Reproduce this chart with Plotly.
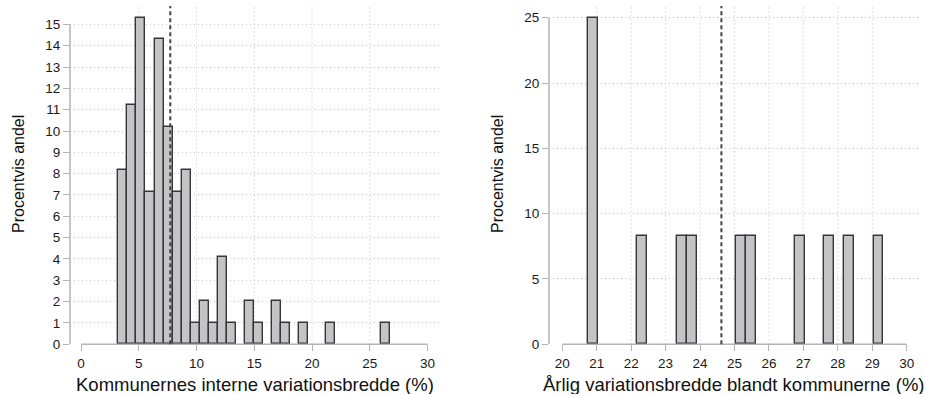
import plotly.graph_objects as go

# ---- data ----
left_bin_mid = [3.622, 4.405, 5.188, 5.972, 6.755, 7.538, 8.322, 9.105, 9.888, 10.672,
                11.455, 12.238, 13.022, 14.588, 15.372, 16.938, 17.722, 19.288, 21.638, 26.338]
left_pct = [8.16, 11.22, 15.31, 7.14, 14.29, 10.20, 7.14, 8.16, 1.02, 2.04,
            1.02, 4.08, 1.02, 2.04, 1.02, 2.04, 1.02, 1.02, 1.02, 1.02]
left_bin_width = 0.7833
left_mean = 7.73

right_bin_mid = [20.898, 22.326, 23.469, 23.755, 25.183, 25.469, 26.898, 27.755, 28.326, 29.183]
right_pct = [25.0, 8.33, 8.33, 8.33, 8.33, 8.33, 8.33, 8.33, 8.33, 8.33]
right_bin_width = 0.2857
right_mean = 24.62

left_xticks = [0, 5, 10, 15, 20, 25, 30]
left_yticks = list(range(0, 16))
right_xticks = list(range(20, 31))
right_yticks = [0, 5, 10, 15, 20, 25]

left_xtitle = "Kommunernes interne variationsbredde (%)"
right_xtitle = "Årlig variationsbredde blandt kommunerne (%)"
ytitle = "Procentvis andel"

# ---- style ----
W, H = 927, 394
FONT = "Arial, Liberation Sans, sans-serif"
BAR_FILL = "#c4c4c8"
BAR_LINE = "#363636"
AXIS_COL = "#b4b4b4"
GRID_COL = "#c4c4c4"
GRID_DASH = "1px,3px"
TXT = "#1a1a1a"

def px(v):
    return v / W

def py(v):
    return (H - v) / H

fig = go.Figure()
fig.add_trace(go.Bar(x=left_bin_mid, y=left_pct, width=[left_bin_width] * len(left_pct),
                     marker=dict(color=BAR_FILL, line=dict(color=BAR_LINE, width=1.4)),
                     xaxis="x", yaxis="y", showlegend=False, hoverinfo="x+y"))
fig.add_trace(go.Bar(x=right_bin_mid, y=right_pct, width=[right_bin_width] * len(right_pct),
                     marker=dict(color=BAR_FILL, line=dict(color=BAR_LINE, width=1.4)),
                     xaxis="x2", yaxis="y2", showlegend=False, hoverinfo="x+y"))

ydom = [py(344.3), py(6)]
common_x = dict(showgrid=False, zeroline=False, showline=False, ticks="outside", ticklen=6,
                tickwidth=1.3, tickcolor=AXIS_COL, tickfont=dict(family=FONT, size=13.5, color=TXT),
                fixedrange=True, automargin=False)
common_y = dict(showgrid=True, gridcolor=GRID_COL, griddash=GRID_DASH, gridwidth=1, zeroline=False,
                showline=False, ticks="outside", ticklen=6, tickwidth=1.3, tickcolor=AXIS_COL,
                tickfont=dict(family=FONT, size=13.5, color=TXT), fixedrange=True, automargin=False)

fig.update_layout(
    width=W, height=H, margin=dict(l=0, r=0, t=0, b=0, autoexpand=False),
    paper_bgcolor="white", plot_bgcolor="white", bargap=0,
    xaxis=dict(domain=[px(70), px(440)], range=[(70 - 81) / 11.55, (440 - 81) / 11.55],
               tickvals=left_xticks, anchor="y", **common_x),
    yaxis=dict(domain=ydom, range=[0, 15.86], tickvals=left_yticks, anchor="x", **common_y),
    xaxis2=dict(domain=[px(549), px(920)], range=[20 + (549 - 562.3) / 34.44, 20 + (920 - 562.3) / 34.44],
                tickvals=right_xticks, anchor="y2", **common_x),
    yaxis2=dict(domain=ydom, range=[0, 25.9], tickvals=right_yticks, anchor="x2", **common_y),
)

shapes = []
# vertical dotted grid lines (inner ticks only)
for v in left_xticks[1:-1]:
    shapes.append(dict(type="line", xref="x", yref="y domain", x0=v, x1=v, y0=0, y1=1,
                       line=dict(color=GRID_COL, width=1, dash=GRID_DASH), layer="below"))
for v in right_xticks[1:-1]:
    shapes.append(dict(type="line", xref="x2", yref="y2 domain", x0=v, x1=v, y0=0, y1=1,
                       line=dict(color=GRID_COL, width=1, dash=GRID_DASH), layer="below"))
# axis lines
shapes.append(dict(type="line", xref="x", yref="y domain", x0=left_xticks[0], x1=left_xticks[-1],
                   y0=0, y1=0, line=dict(color=AXIS_COL, width=1.5)))
shapes.append(dict(type="line", xref="x domain", yref="y", x0=0, x1=0, y0=left_yticks[0],
                   y1=left_yticks[-1], line=dict(color=AXIS_COL, width=1.5)))
shapes.append(dict(type="line", xref="x2", yref="y2 domain", x0=right_xticks[0], x1=right_xticks[-1],
                   y0=0, y1=0, line=dict(color=AXIS_COL, width=1.5)))
shapes.append(dict(type="line", xref="x2 domain", yref="y2", x0=0, x1=0, y0=right_yticks[0],
                   y1=right_yticks[-1], line=dict(color=AXIS_COL, width=1.5)))
# mean lines
shapes.append(dict(type="line", xref="x", yref="y domain", x0=left_mean, x1=left_mean, y0=0, y1=1,
                   line=dict(color="#444444", width=2, dash="4px,3px")))
shapes.append(dict(type="line", xref="x2", yref="y2 domain", x0=right_mean, x1=right_mean, y0=0, y1=1,
                   line=dict(color="#444444", width=2, dash="4px,3px")))
fig.update_layout(shapes=shapes)

ann = [
    dict(text=left_xtitle, x=px(254.5), y=py(384), xanchor="center", yanchor="middle", size=18.5),
    dict(text=right_xtitle, x=px(734), y=py(384), xanchor="center", yanchor="middle", size=18.5),
    dict(text=ytitle, x=px(18), y=py(174), xanchor="center", yanchor="middle", textangle=-90, size=16),
    dict(text=ytitle, x=px(497), y=py(174), xanchor="center", yanchor="middle", textangle=-90, size=16),
]
for a in ann:
    s = a.pop("size")
    a.update(xref="paper", yref="paper", showarrow=False, font=dict(family=FONT, size=s, color="#111111"))
fig.update_layout(annotations=ann)

fig.write_html("out.html", config={"displayModeBar": False},
               post_script="document.body.style.margin='0';document.body.style.padding='0';")
